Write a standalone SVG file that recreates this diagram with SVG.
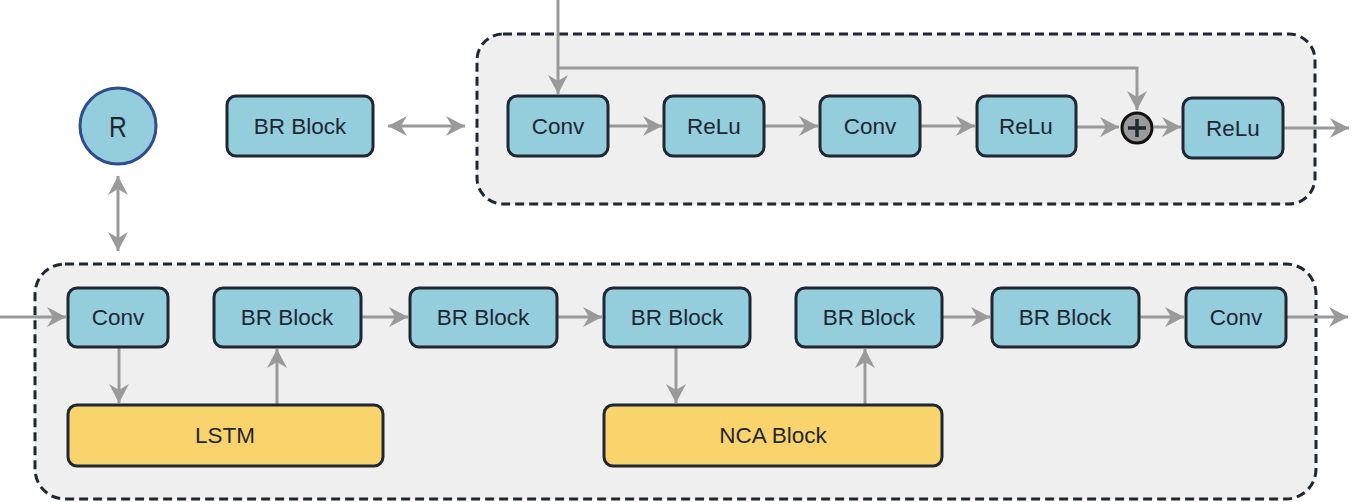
<svg xmlns="http://www.w3.org/2000/svg" width="1371" height="502" viewBox="0 0 1371 502">
<style>
.ctr{fill:#efefef;stroke:#1f2733;stroke-width:3;stroke-dasharray:9 5}
.nb{fill:#94cedc;stroke:#1f2733;stroke-width:3}
.ny{fill:#f9d46c;stroke:#1f2733;stroke-width:3}
.t{font-family:"Liberation Sans",Arial,sans-serif;font-size:22.5px;fill:#1f2733;text-anchor:middle}
.e{fill:none;stroke:#9a9a9a;stroke-width:3}
</style>
<defs>
<marker id="ah" viewBox="-20 -11 21 22" refX="0" refY="0" markerWidth="21" markerHeight="22" markerUnits="userSpaceOnUse" orient="auto-start-reverse">
<path d="M0,0 L-19,-10 L-13,0 L-19,10 Z" fill="#9a9a9a"/>
</marker>
</defs>
<g id="container-top"><rect class="ctr" x="477" y="34" width="838" height="170" rx="26"/></g>
<g id="container-bottom"><rect class="ctr" x="35" y="264" width="1281" height="235" rx="30"/></g>
<g id="connectors">
<path class="e" d="M558,0 V94" marker-end="url(#ah)"/>
<path class="e" d="M558,68 H1137 V110" marker-end="url(#ah)"/>
<path class="e" d="M608,126 H662" marker-end="url(#ah)"/>
<path class="e" d="M764,126 H818" marker-end="url(#ah)"/>
<path class="e" d="M920,126 H975" marker-end="url(#ah)"/>
<path class="e" d="M1076,127 H1119" marker-end="url(#ah)"/>
<path class="e" d="M1154,127 H1181" marker-end="url(#ah)"/>
<path class="e" d="M1283,128 H1349" marker-end="url(#ah)"/>
<path class="e" d="M388,126 H465" marker-start="url(#ah)" marker-end="url(#ah)"/>
<path class="e" d="M118,176 V251" marker-start="url(#ah)" marker-end="url(#ah)"/>
<path class="e" d="M0,317 H66" marker-end="url(#ah)"/>
<path class="e" d="M119,347 V403" marker-end="url(#ah)"/>
<path class="e" d="M277,405 V349" marker-end="url(#ah)"/>
<path class="e" d="M361,317 H408" marker-end="url(#ah)"/>
<path class="e" d="M557,317 H602" marker-end="url(#ah)"/>
<path class="e" d="M676,347 V403" marker-end="url(#ah)"/>
<path class="e" d="M865,405 V349" marker-end="url(#ah)"/>
<path class="e" d="M942,317 H990" marker-end="url(#ah)"/>
<path class="e" d="M1139,317 H1184" marker-end="url(#ah)"/>
<path class="e" d="M1286,317 H1348" marker-end="url(#ah)"/>
</g>
<g id="node-R"><circle cx="118" cy="126" r="38" fill="#94cedc" stroke="#2d4d8c" stroke-width="3"/><text class="t" x="118" y="137" style="font-size:30px" transform="translate(118 0) scale(0.82 1) translate(-118 0)">R</text></g>
<g id="node-br-top"><rect class="nb" x="227" y="96" width="146" height="60" rx="9"/><text class="t" x="300" y="134">BR Block</text></g>
<g id="node-conv1"><rect class="nb" x="508" y="96" width="100" height="60" rx="9"/><text class="t" x="558" y="134">Conv</text></g>
<g id="node-relu1"><rect class="nb" x="664" y="96" width="100" height="60" rx="9"/><text class="t" x="714" y="134">ReLu</text></g>
<g id="node-conv2"><rect class="nb" x="820" y="96" width="100" height="60" rx="9"/><text class="t" x="870" y="134">Conv</text></g>
<g id="node-relu2"><rect class="nb" x="977" y="96" width="99" height="60" rx="9"/><text class="t" x="1026" y="134">ReLu</text></g>
<g id="node-plus"><circle cx="1137" cy="128" r="15" fill="#9a9a9a" stroke="#111" stroke-width="3"/><path d="M1128,128 H1146 M1137,119 V137" stroke="#1f2733" stroke-width="3.5"/></g>
<g id="node-relu3"><rect class="nb" x="1183" y="98" width="100" height="60" rx="9"/><text class="t" x="1233" y="136">ReLu</text></g>
<g id="node-conv-b1"><rect class="nb" x="68" y="288" width="100" height="59" rx="9"/><text class="t" x="118" y="325">Conv</text></g>
<g id="node-br1"><rect class="nb" x="214" y="288" width="147" height="59" rx="9"/><text class="t" x="287" y="325">BR Block</text></g>
<g id="node-br2"><rect class="nb" x="410" y="288" width="147" height="59" rx="9"/><text class="t" x="483" y="325">BR Block</text></g>
<g id="node-br3"><rect class="nb" x="604" y="288" width="146" height="59" rx="9"/><text class="t" x="677" y="325">BR Block</text></g>
<g id="node-br4"><rect class="nb" x="796" y="288" width="146" height="59" rx="9"/><text class="t" x="869" y="325">BR Block</text></g>
<g id="node-br5"><rect class="nb" x="992" y="288" width="147" height="59" rx="9"/><text class="t" x="1065" y="325">BR Block</text></g>
<g id="node-conv-b2"><rect class="nb" x="1186" y="288" width="100" height="59" rx="9"/><text class="t" x="1236" y="325">Conv</text></g>
<g id="node-lstm"><rect class="ny" x="68" y="405" width="315" height="61" rx="9"/><text class="t" x="225" y="443">LSTM</text></g>
<g id="node-nca"><rect class="ny" x="604" y="405" width="338" height="61" rx="9"/><text class="t" x="773" y="443">NCA Block</text></g>
</svg>
